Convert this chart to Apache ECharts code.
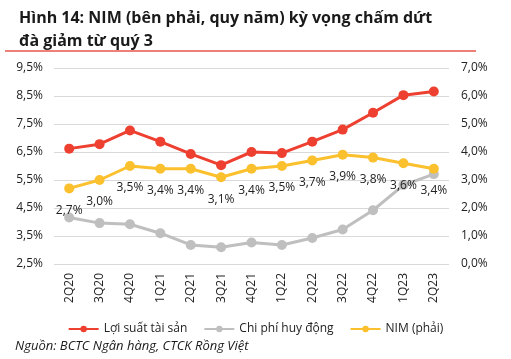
<!DOCTYPE html>
<html><head><meta charset="utf-8">
<script src="https://cdn.jsdelivr.net/npm/echarts@6/dist/echarts.min.js"></script>
<style>html,body{margin:0;padding:0;background:#fff}#c{width:511px;height:359px}</style>
</head><body><div id="c"></div>
<script>
const categories = ['2Q20','3Q20','4Q20','1Q21','2Q21','3Q21','4Q21','1Q22','2Q22','3Q22','4Q22','1Q23','2Q23'];
const assetYield = [6.62, 6.78, 7.27, 6.87, 6.43, 6.03, 6.50, 6.46, 6.87, 7.30, 7.90, 8.53, 8.66];
const fundingCost = [4.16, 3.96, 3.92, 3.60, 3.18, 3.10, 3.27, 3.18, 3.43, 3.73, 4.42, 5.32, 5.71];
const nim = [2.7, 3.0, 3.5, 3.4, 3.4, 3.1, 3.4, 3.5, 3.7, 3.9, 3.8, 3.6, 3.4];
const seriesNames = ['Lợi suất tài sản', 'Chi phí huy động', 'NIM (phải)'];
const titleText = 'Hình 14: NIM (bên phải, quy năm) kỳ vọng chấm dứt\nđà giảm từ quý 3';
const sourceText = 'Nguồn: BCTC Ngân hàng, CTCK Rồng Việt';

const font = 'Open Sans';
const fmt = v => v.toFixed(1).replace('.', ',') + '%';
const chart = echarts.init(document.getElementById('c'), null, {renderer: 'canvas'});
chart.setOption({
  animation: false,
  textStyle: {fontFamily: font},
  title: {
    text: titleText, left: 14, top: 2,
    textStyle: {fontSize: 16, fontWeight: 'bold', color: '#1a1a1a', lineHeight: 23, fontFamily: font}
  },
  graphic: [
    {type: 'line', shape: {x1: 5, y1: 51, x2: 476, y2: 51}, style: {stroke: '#E8574A', lineWidth: 1.5}},
    {type: 'text', left: 15, top: 340, style: {text: sourceText, font: 'italic 13px "Open Sans"', fill: '#1a1a1a'}}
  ],
  legend: {
    top: 318, left: 'center', itemWidth: 30, itemHeight: 8, itemGap: 16,
    textStyle: {fontSize: 12, color: '#222', fontFamily: font},
    data: seriesNames
  },
  grid: {left: 54, right: 62, top: 68, bottom: 95, containLabel: false},
  xAxis: {
    type: 'category', data: categories, boundaryGap: true,
    axisLine: {show: false}, axisTick: {show: false},
    axisLabel: {rotate: 90, fontSize: 12, color: '#222', margin: 9}
  },
  yAxis: [
    {type: 'value', min: 2.5, max: 9.5, interval: 1,
     axisLabel: {formatter: fmt, fontSize: 12, color: '#222', margin: 11},
     splitLine: {lineStyle: {color: '#D9D9D9', width: 1}},
     axisLine: {show: false}, axisTick: {show: false}},
    {type: 'value', min: 0, max: 7, interval: 1, position: 'right',
     axisLabel: {formatter: fmt, fontSize: 12, color: '#222', margin: 12},
     splitLine: {show: false}, axisLine: {show: false}, axisTick: {show: false}}
  ],
  series: [
    {name: seriesNames[0], type: 'line', data: assetYield, yAxisIndex: 0,
     symbol: 'circle', symbolSize: 10, lineStyle: {width: 3, color: '#EE4030'},
     itemStyle: {color: '#EE4030'}},
    {name: seriesNames[1], type: 'line', data: fundingCost, yAxisIndex: 0,
     symbol: 'circle', symbolSize: 10, lineStyle: {width: 3, color: '#BFBFBF'},
     itemStyle: {color: '#BFBFBF'}},
    {name: seriesNames[2], type: 'line', data: nim, yAxisIndex: 1,
     symbol: 'circle', symbolSize: 10, lineStyle: {width: 3, color: '#FBC02D'},
     itemStyle: {color: '#FBC02D'},
     label: {show: true, position: 'bottom', distance: 11, formatter: p => fmt(p.value), fontSize: 12, color: '#222'}}
  ]
});
</script></body></html>
